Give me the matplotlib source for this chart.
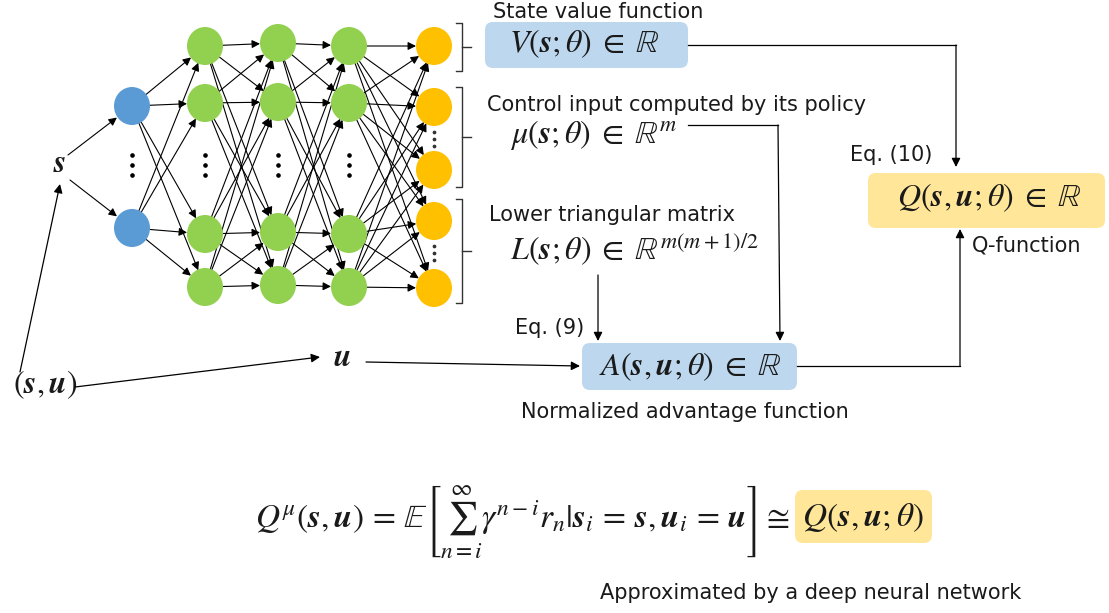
import numpy as np
import matplotlib
matplotlib.use("Agg")
import matplotlib.pyplot as plt
from matplotlib.patches import Ellipse, FancyBboxPatch, FancyArrowPatch

plt.rcParams['font.family'] = ['DejaVu Sans']
plt.rcParams['mathtext.fontset'] = 'stix'

# network layout (pixel space of the original picture)
layer_x = [132, 205, 278, 349, 434]
layer_y = [
    [106, 228],
    [46, 103, 234, 287],
    [43, 102, 232, 285],
    [46, 103, 234, 287],
    [46, 107, 170, 221, 288],
]
layer_colors = ['#5B9BD5', '#92D050', '#92D050', '#92D050', '#FFC000']
ellipsis_y = [165, 165, 165, 165]          # dots in the first four layers
out_ellipsis_y = [139, 253]                # dots between output nodes

# output groups: (top, bottom) of each bracket
brackets = [(23, 71), (87, 187), (199, 303)]

TEXT = '#1a1a1a'
BS = r'\boldsymbol{s}'
BU = r'\boldsymbol{u}'
MATH_FS = 23
CAP_FS = 15

fig = plt.figure(figsize=(11.09, 6.13), dpi=100)
ax = fig.add_axes([0, 0, 1, 1])
ax.set_xlim(0, 1109)
ax.set_ylim(613, 0)
ax.axis('off')


def arrow(p0, p1, lw=0.9, ms=13):
    a = FancyArrowPatch(p0, p1, arrowstyle='-|>', mutation_scale=ms,
                        lw=lw, color='black', shrinkA=0, shrinkB=0, zorder=3)
    ax.add_patch(a)


def edge_arrow(c0, c1, r0=18, r1=18):
    c0 = np.array(c0, float)
    c1 = np.array(c1, float)
    d = (c1 - c0) / np.linalg.norm(c1 - c0)
    arrow(tuple(c0 + d * r0), tuple(c1 - d * r1), lw=0.8, ms=12)


# connections between consecutive layers
for li in range(len(layer_x) - 1):
    for ya in layer_y[li]:
        for yb in layer_y[li + 1]:
            edge_arrow((layer_x[li], ya), (layer_x[li + 1], yb))

# nodes
for x, ys, col in zip(layer_x, layer_y, layer_colors):
    for y in ys:
        ax.add_patch(Ellipse((x, y), 36, 38, color=col, ec='none', zorder=4))

# vertical ellipses
for x, y in zip(layer_x[:4], ellipsis_y):
    ax.plot([x, x, x], [y - 10, y, y + 10], 'o', color='black', ms=2.3, zorder=5)
for y in out_ellipsis_y:
    ax.plot([layer_x[4]] * 3, [y - 7, y, y + 7], 'o', color='#333333', ms=1.7, zorder=5)

# brackets on the output layer
for top, bot in brackets:
    bx = 462
    ax.plot([bx - 6, bx, bx, bx - 6], [top, top, bot, bot], color='#333333', lw=1)
    mid = (top + bot) / 2
    ax.plot([bx, bx + 9], [mid, mid], color='#333333', lw=1)

# input labels
ax.text(60, 163, rf'${BS}$', fontsize=MATH_FS, ha='center', va='center', color=TEXT)
ax.text(342, 357, rf'${BU}$', fontsize=MATH_FS, ha='center', va='center', color=TEXT)
ax.text(45, 385, rf'$({BS},{BU})$', fontsize=MATH_FS, ha='center', va='center', color=TEXT)
edge_arrow((68, 155), (layer_x[0], layer_y[0][0]), r0=0, r1=19)
edge_arrow((70, 180), (layer_x[0], layer_y[0][1]), r0=0, r1=19)
arrow((20, 372), (60, 184))
arrow((75, 387), (320, 357))
arrow((366, 362), (580, 366))

# output boxes
boxes = [
    ((485, 22, 203, 46), '#BDD7EE'),   # V
    ((868, 173, 237, 55), '#FFE699'),  # Q
    ((582, 343, 215, 47), '#BDD7EE'),  # A
]
for (x, y, w, h), col in boxes:
    ax.add_patch(FancyBboxPatch((x, y), w, h, boxstyle='round,pad=0,rounding_size=8',
                                fc=col, ec='none', zorder=1))

IN = r'\;\in\;'
ax.text(584, 44, rf'$V({BS};\theta){IN}\mathbb{{R}}$', fontsize=MATH_FS,
        ha='center', va='center', color=TEXT, zorder=2)
ax.text(989, 198, rf'$Q({BS},{BU};\theta){IN}\mathbb{{R}}$', fontsize=MATH_FS,
        ha='center', va='center', color=TEXT, zorder=2)
ax.text(690, 367, rf'$A({BS},{BU};\theta){IN}\mathbb{{R}}$', fontsize=MATH_FS,
        ha='center', va='center', color=TEXT, zorder=2)
ax.text(510, 135, rf'$\mu({BS};\theta){IN}\mathbb{{R}}^m$', fontsize=MATH_FS,
        ha='left', va='center', color=TEXT)
ax.text(510, 249, rf'$L({BS};\theta){IN}\mathbb{{R}}^{{m(m+1)/2}}$', fontsize=MATH_FS,
        ha='left', va='center', color=TEXT)

# captions
caps = [
    (493, 12, 'State value function', 'left'),
    (487, 105, 'Control input computed by its policy', 'left'),
    (850, 155, 'Eq. (10)', 'left'),
    (972, 245, 'Q-function', 'left'),
    (489, 215, 'Lower triangular matrix', 'left'),
    (515, 328, 'Eq. (9)', 'left'),
    (685, 412, 'Normalized advantage function', 'center'),
    (600, 593, 'Approximated by a deep neural network', 'left'),
]
for x, y, s, ha in caps:
    ax.text(x, y, s, fontsize=CAP_FS, ha=ha, va='center', color=TEXT)

# flow lines into A and Q
ax.plot([688, 956], [45, 45], color='black', lw=0.9)
arrow((956, 45), (956, 167))
ax.plot([688, 778], [125, 125], color='black', lw=0.9)
arrow((778, 125), (780, 341))
arrow((598, 275), (598, 341))
ax.plot([797, 960], [366, 366], color='black', lw=0.9)
arrow((960, 366), (960, 229))

# definition of the Q function
EQ = r'\,=\,'
formula = (rf'$Q^{{\mu}}({BS},{BU}){EQ}\mathbb{{E}}\left[\sum_{{n=i}}^{{\infty}}'
           rf'\gamma^{{n-i}}r_n|{BS}_i{EQ}{BS},{BU}_i{EQ}{BU}\right]\cong$')
ax.text(255, 522, formula, fontsize=24, ha='left', va='center', color=TEXT)
ax.add_patch(FancyBboxPatch((795, 490), 137, 53, boxstyle='round,pad=0,rounding_size=8',
                            fc='#FFE699', ec='none', zorder=1))
ax.text(863, 518, rf'$Q({BS},{BU};\theta)$', fontsize=24, ha='center', va='center',
        color=TEXT, zorder=2)

fig.savefig('out.png', dpi=100)
